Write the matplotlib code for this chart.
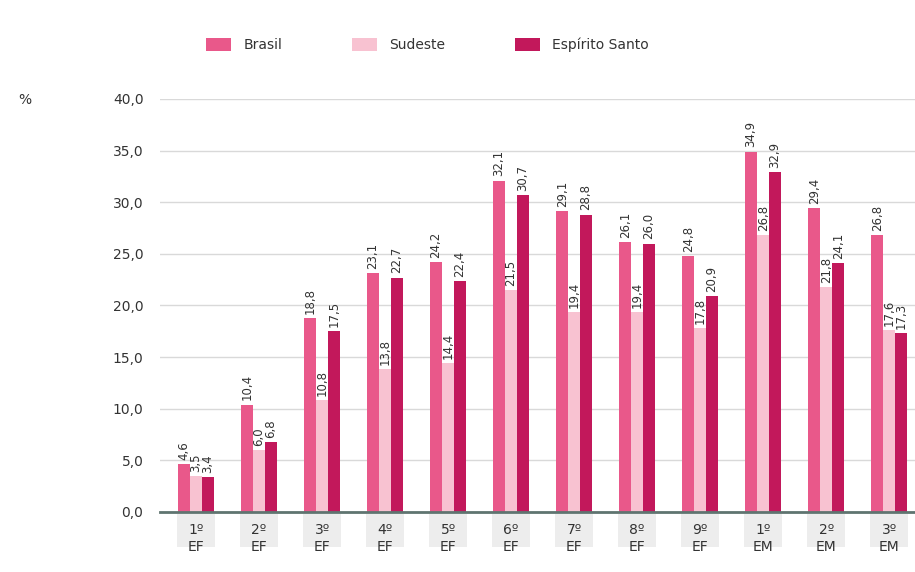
import matplotlib.pyplot as plt
import numpy as np
from matplotlib.patches import Rectangle
from matplotlib.transforms import blended_transform_factory

categories = ["1º\nEF", "2º\nEF", "3º\nEF", "4º\nEF", "5º\nEF", "6º\nEF",
              "7º\nEF", "8º\nEF", "9º\nEF", "1º\nEM", "2º\nEM", "3º\nEM"]
brasil = [4.6, 10.4, 18.8, 23.1, 24.2, 32.1, 29.1, 26.1, 24.8, 34.9, 29.4, 26.8]
sudeste = [3.5, 6.0, 10.8, 13.8, 14.4, 21.5, 19.4, 19.4, 17.8, 26.8, 21.8, 17.6]
espirito_santo = [3.4, 6.8, 17.5, 22.7, 22.4, 30.7, 28.8, 26.0, 20.9, 32.9, 24.1, 17.3]
series_names = ["Brasil", "Sudeste", "Espírito Santo"]
colors = ["#E9588A", "#F8C2D1", "#C2185B"]
yticks = [0, 5, 10, 15, 20, 25, 30, 35, 40]

fig = plt.figure(figsize=(9.15, 5.72), dpi=100)
ax = fig.add_axes([0.175, 0.105, 0.825, 0.722])

x = np.arange(len(categories))
w = 0.19
text_color = "#333333"

for k, (vals, name, c) in enumerate(zip([brasil, sudeste, espirito_santo], series_names, colors)):
    xs = x + (k - 1) * w
    ax.bar(xs, vals, width=w, color=c, label=name, zorder=3)
    for xi, v in zip(xs, vals):
        ax.text(xi, v + 0.4, f"{v:.1f}".replace(".", ","), rotation=90,
                ha="center", va="bottom", fontsize=8.5, color=text_color, zorder=4)

ax.set_xlim(-0.57, 11.41)
ax.set_ylim(0, 40)
ax.set_yticks(yticks)
ax.set_yticklabels([f"{t:.1f}".replace(".", ",") for t in yticks], fontsize=10, color=text_color)
ax.tick_params(axis="y", length=0, pad=12)
ax.yaxis.grid(True, color="#D9D9D9", linewidth=1, zorder=0)
for s in ["top", "right", "left"]:
    ax.spines[s].set_visible(False)
ax.spines["bottom"].set_color("#5F7470")
ax.spines["bottom"].set_linewidth(2)
ax.spines["bottom"].set_zorder(5)

ax.set_xticks(x)
ax.set_xticklabels(categories, fontsize=10, color=text_color, linespacing=1.3)
ax.tick_params(axis="x", length=0, pad=8)

# light gray boxes behind the category labels
trans = blended_transform_factory(ax.transData, ax.transAxes)
for xi in x:
    ax.add_patch(Rectangle((xi - 0.3, -0.085), 0.6, 0.08, transform=trans,
                           facecolor="#EDEDED", edgecolor="none", clip_on=False, zorder=0))

fig.text(18 / 915, 1 - 100 / 572, "%", fontsize=10, color=text_color, va="center")

fig.legend(loc="center", bbox_to_anchor=(0.467, 1 - 45 / 572), ncol=3, frameon=False,
           fontsize=10, handlelength=1.8, handleheight=1.1, handletextpad=0.9,
           columnspacing=5.0, labelcolor=text_color)

fig.savefig("out.png", dpi=100)
